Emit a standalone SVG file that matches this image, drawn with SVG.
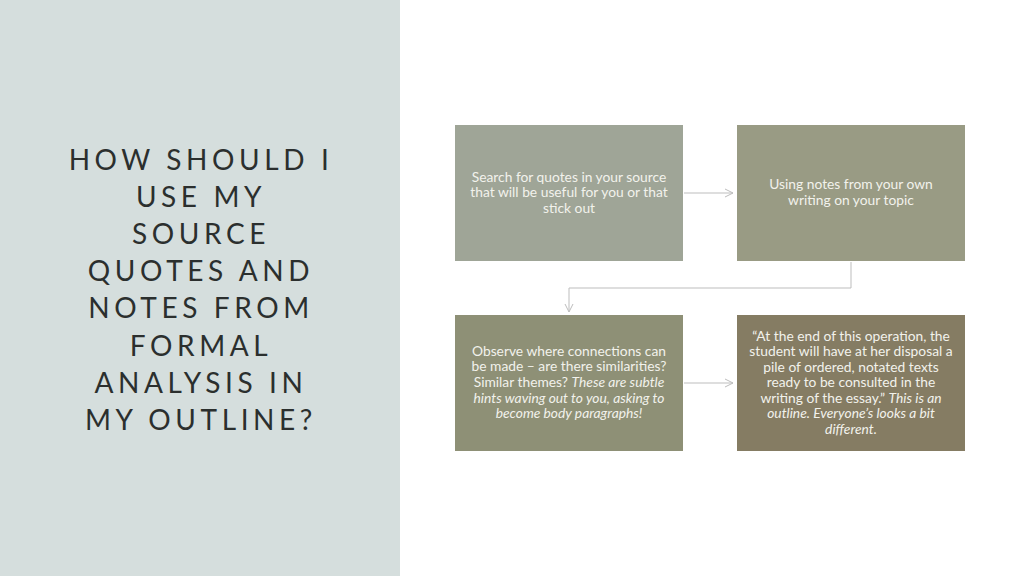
<svg xmlns="http://www.w3.org/2000/svg" width="1024" height="576" viewBox="0 0 1024 576">
<defs>
<style>
.title{font-family:"Lato","Open Sans",sans-serif;font-size:28px;fill:#2b2f2e;letter-spacing:4.6px;text-anchor:middle}
.body{font-family:"Lato","Open Sans",sans-serif;font-size:13.8px;fill:#f2f2ec;text-anchor:middle}
.it{font-style:italic}
.conn{fill:none;stroke:#bdbdbd;stroke-width:1}
</style>
<marker id="arr" viewBox="0 0 10 10" refX="9" refY="5" markerWidth="10" markerHeight="10" markerUnits="userSpaceOnUse" orient="auto">
<path d="M1,1 L9,5 L1,9" fill="none" stroke="#bdbdbd" stroke-width="1"/>
</marker>
</defs>
<rect width="1024" height="576" fill="#ffffff"/>
<g id="title">
<rect x="0" y="0" width="400" height="576" fill="#d5dedd"/>
<text class="title" x="201" y="170">HOW SHOULD I</text>
<text class="title" x="201" y="207">USE MY</text>
<text class="title" x="201" y="244">SOURCE</text>
<text class="title" x="201" y="281">QUOTES AND</text>
<text class="title" x="201" y="318">NOTES FROM</text>
<text class="title" x="201" y="356">FORMAL</text>
<text class="title" x="201" y="393">ANALYSIS IN</text>
<text class="title" x="201" y="430">MY OUTLINE?</text>
</g>
<g id="connectors">
<path class="conn" d="M684,193 H733" marker-end="url(#arr)"/>
<path class="conn" d="M851,262 V288 H569 V312" marker-end="url(#arr)"/>
<path class="conn" d="M684,383 H733" marker-end="url(#arr)"/>
</g>
<g id="node1">
<rect x="455" y="125" width="228" height="136" fill="#9fa597"/>
<text class="body" x="569" y="182">Search for quotes in your source</text>
<text class="body" x="569" y="197">that will be useful for you or that</text>
<text class="body" x="569" y="213">stick out</text>
</g>
<g id="node2">
<rect x="737" y="125" width="228" height="136" fill="#999b84"/>
<text class="body" x="851" y="189">Using notes from your own</text>
<text class="body" x="851" y="205">writing on your topic</text>
</g>
<g id="node3">
<rect x="455" y="315" width="228" height="136" fill="#8e9076"/>
<text class="body" x="569" y="356">Observe where connections can</text>
<text class="body" x="569" y="371">be made – are there similarities?</text>
<text class="body" x="569" y="387">Similar themes? <tspan class="it">These are subtle</tspan></text>
<text class="body it" x="569" y="403">hints waving out to you, asking to</text>
<text class="body it" x="569" y="418">become body paragraphs!</text>
</g>
<g id="node4">
<rect x="737" y="315" width="228" height="136" fill="#857c63"/>
<text class="body" x="851" y="341">“At the end of this operation, the</text>
<text class="body" x="851" y="356">student will have at her disposal a</text>
<text class="body" x="851" y="372">pile of ordered, notated texts</text>
<text class="body" x="851" y="387">ready to be consulted in the</text>
<text class="body" x="851" y="403">writing of the essay.” <tspan class="it">This is an</tspan></text>
<text class="body it" x="851" y="418">outline. Everyone’s looks a bit</text>
<text class="body it" x="851" y="434">different.</text>
</g>
</svg>
